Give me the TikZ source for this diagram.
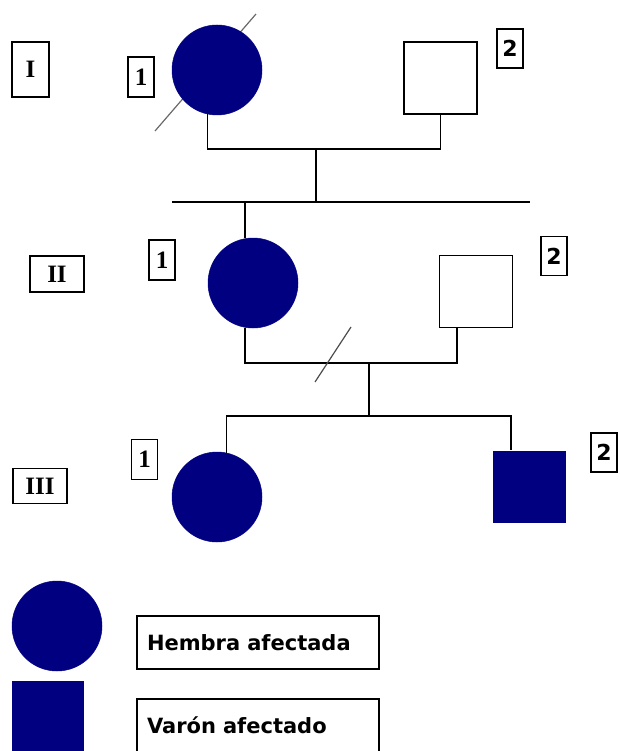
\documentclass[tikz,border=0pt]{standalone}
\usepackage{fontspec}
\setmainfont{Liberation Serif}
\newfontfamily\legfont{DejaVu Sans}
\definecolor{navy}{RGB}{0,0,128}
\definecolor{slashgray}{RGB}{105,105,105}
\begin{document}
\begin{tikzpicture}[x=1pt,y=-1pt,line width=1.6pt,
  fem/.style={circle,fill=navy,draw=navy,line width=0.5pt,minimum size=90pt,inner sep=0pt},
  mal/.style={rectangle,draw=black,line width=1.6pt,minimum width=73pt,minimum height=72pt,inner sep=0pt},
  affm/.style={rectangle,fill=navy,minimum width=73pt,minimum height=72pt,inner sep=0pt},
  lblbox/.style={draw,line width=1.3pt,inner sep=0pt},
  numone/.style={lblbox,minimum width=26pt,minimum height=40pt,font=\bfseries\fontsize{25}{25}\selectfont},
  numtwo/.style={lblbox,minimum width=26pt,minimum height=39pt,font=\legfont\bfseries\fontsize{22}{22}\selectfont},
  genbox/.style={lblbox,font=\bfseries\fontsize{25}{25}\selectfont},
  legbox/.style={draw,line width=1.3pt,inner xsep=10pt,inner ysep=0pt,text width=222pt,minimum height=53pt,align=left,font=\legfont\bfseries\fontsize{21}{21}\selectfont},
  slash/.style={draw=slashgray,line width=1.2pt}
]
\useasboundingbox (0,0) rectangle (619,751);

% slash behind the deceased female I-1
\draw[slash] (155,131) -- (256,14);

% Generation I
\node[fem] (I1) at (217,70) {};
\node[mal] (I2) at (440.5,78) {};
% Generation II
\node[fem] (II1) at (253,283) {};
\node[mal] (II2) at (476,291.5) {};
% Generation III
\node[fem] (III1) at (217,497) {};
\node[affm] (III2) at (529.5,487) {};

% generation labels
\node[genbox,minimum width=37pt,minimum height=55pt] (gI) at (30.5,69.5) {I};
\node[genbox,minimum width=54pt,minimum height=36pt] (gII) at (57,274) {II};
\node[genbox,minimum width=54pt,minimum height=35pt] (gIII) at (40,486) {III};

% individual numbers
\node[numone] (nI1) at (141,77) {1};
\node[numtwo] (nI2) at (510,48.5) {2};
\node[numone] (nII1) at (162,260) {1};
\node[numtwo] (nII2) at (554,256) {2};
\node[numone] (nIII1) at (144.5,459.5) {1};
\node[numtwo] (nIII2) at (604,452.5) {2};

% connectors
\coordinate (mI) at (316,149);
\coordinate (cI) at (316,202);
\coordinate (sL) at (172,202);
\coordinate (sR) at (530,202);
\draw (I1.258) |- (mI) -| (I2.south);
\draw (mI) -- (cI);
\draw (sL) -- (sR);
\draw (II1.100) -- (II1.100 |- sR);

\coordinate (mII) at (369,363);
\coordinate (cIII) at (369,416);
\draw (II1.260) |- (mII) -| ([xshift=18pt]II2.south west);
\draw (mII) -- (cIII);
\draw (III1.78) |- (cIII) -| ([xshift=19pt]III2.north west);
\draw[slash,draw=black!70] (315,382) -- (351,327);

% legend
\node[fem] (LF) at (57,626) {};
\node[affm,minimum width=72pt] (LM) at (48,717) {};
\node[legbox] (LFt) at (258,642.5) {Hembra afectada};
\node[legbox] (LMt) at (258,725.5) {Varón afectado};
\end{tikzpicture}
\end{document}
